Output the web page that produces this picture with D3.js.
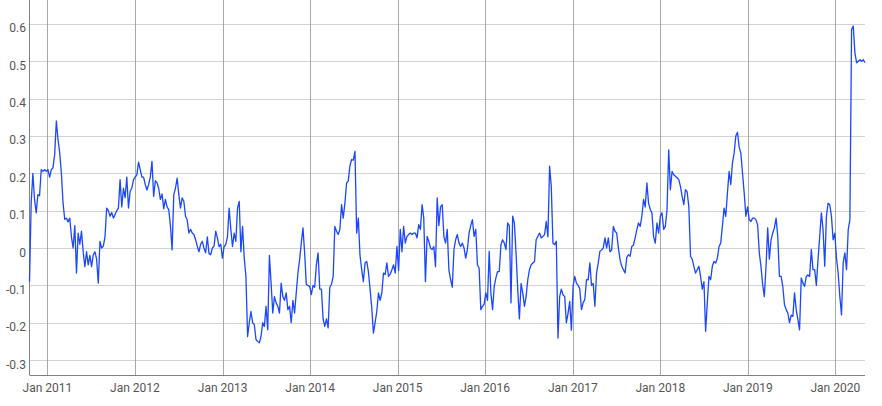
<!DOCTYPE html>
<html>
<head>
<meta charset="utf-8">
<script src="https://cdnjs.cloudflare.com/ajax/libs/d3/7.8.5/d3.min.js"></script>
<style>
  body { margin: 0; background: #fff; }
  svg text { font-family: Roboto, "Noto Sans", sans-serif; font-size: 12px; fill: #555; }
</style>
</head>
<body>
<svg width="882" height="406"></svg>
<script>
// weekly series, first point on this date
var startDate = new Date(2010, 9, 18);
var stepDays = 7;

// tick values
var yTicks = [-0.3, -0.2, -0.1, 0, 0.1, 0.2, 0.3, 0.4, 0.5, 0.6];
var xTickYears = [2011, 2012, 2013, 2014, 2015, 2016, 2017, 2018, 2019, 2020];

// values, one per week
var valuesA = [-0.09, 0.12, 0.20, 0.13, 0.094, 0.143, 0.14, 0.21, 0.205, 0.21, 0.205, 0.21, 0.19, 0.21, 0.215, 0.25, 0.34, 0.29, 0.255, 0.20,
  0.12, 0.077, 0.08, 0.07, 0.08, 0.03, 0.0, 0.06, -0.067, 0.04, 0.01, 0.045, -0.01, -0.05, -0.01, -0.045, -0.02, -0.05, -0.018, -0.01,
  -0.03, -0.094, 0.018, 0.0, 0.005, 0.03, 0.107, 0.10, 0.085, 0.095, 0.08, 0.09, 0.10, 0.107, 0.183, 0.11, 0.16, 0.135, 0.19, 0.107,
  0.152, 0.16, 0.183, 0.19, 0.196, 0.23, 0.21, 0.19, 0.19, 0.17, 0.155, 0.17, 0.19, 0.232, 0.138, 0.18, 0.175, 0.16, 0.13, 0.145,
  0.105, 0.13, 0.11, 0.103];

var valuesB = [0.06, -0.005, 0.143, 0.16, 0.187, 0.143, 0.107, 0.134, 0.125, 0.085, 0.075, 0.04, 0.05, 0.04, 0.036, 0.022, 0.005, -0.01, 0.01, 0.018,
  0.0, -0.013, 0.03, -0.015, -0.018, 0.0, 0.005, 0.045, 0.027, 0.004, 0.01, -0.027, 0.004, 0.01, 0.03, 0.107, 0.05, 0.004, 0.04, 0.018,
  0.107, 0.125, -0.01, 0.058, -0.027, -0.076, -0.237, -0.2, -0.17, -0.2, -0.205, -0.245, -0.25, -0.254, -0.237, -0.2, -0.21, -0.156, -0.219, -0.02,
  -0.094, -0.174, -0.13, -0.147, -0.156, -0.174, -0.094, -0.13, -0.14, -0.12, -0.165, -0.156, -0.2, -0.14, -0.174, -0.12, -0.067, -0.031, 0.013, 0.054,
  -0.013, -0.098, -0.1];

var valuesC = [-0.103, -0.125, -0.1, -0.105, -0.045, -0.013, -0.11, -0.11, -0.19, -0.21, -0.19, -0.214, -0.105, -0.097, -0.076, 0.058, 0.045, 0.036, 0.05, 0.116,
  0.08, 0.12, 0.174, 0.179, 0.22, 0.237, 0.235, 0.259, 0.04, 0.08, -0.02, -0.058, -0.09, -0.04, -0.036, -0.063, -0.11, -0.16, -0.228, -0.2,
  -0.17, -0.12, -0.14, -0.12, -0.067, -0.071, -0.04, -0.076, -0.07, -0.058, -0.045, -0.067, 0.004, -0.06, 0.05, -0.01, 0.058, 0.013, 0.031, 0.036,
  0.04, 0.036, 0.04, 0.04, 0.027, 0.0625, 0.05, 0.116, 0.08, -0.09, 0.031, 0.018, 0.0, -0.004, 0.004, -0.05, 0.134, 0.06, 0.11, 0.116,
  0.03, 0.013, 0.05, -0.06, -0.085];

var valuesD = [-0.105, -0.004, 0.022, 0.036, 0.013, 0.004, 0.013, 0.0, -0.027, -0.004, 0.04, 0.06, 0.076, 0.031, 0.05, -0.045, -0.054, -0.165, -0.156, -0.15,
  -0.12, -0.14, -0.009, -0.12, -0.165, -0.103, -0.08, -0.063, -0.063, 0.009, 0.022, 0.013, -0.004, 0.067, 0.06, -0.147, 0.085, 0.067, -0.013, -0.11,
  -0.19, -0.095, -0.12, -0.156, -0.13, -0.085, -0.058, -0.045, -0.04, -0.036, 0.022, 0.031, 0.04, 0.027, 0.031, 0.036, 0.071, 0.03, 0.219, 0.165,
  0.013, 0.009, 0.018, -0.241, -0.13, -0.11, -0.125, -0.13, -0.2, -0.175, -0.143, -0.22, -0.103, -0.076, -0.094, -0.1, -0.11, -0.165, -0.147, -0.138,
  -0.085, -0.085, -0.04];

var valuesE = [-0.1, -0.095, -0.156, -0.067, -0.04, -0.009, -0.005, 0.0, 0.027, 0.0, 0.027, -0.01, -0.005, 0.058, 0.045, 0.04, 0.0, -0.031, -0.049, -0.058,
  -0.067, -0.025, -0.018, -0.022, 0.004, 0.008, 0.027, 0.049, 0.067, 0.058, 0.085, 0.13, 0.11, 0.174, 0.12, 0.103, 0.094, 0.03, 0.013, 0.067,
  0.04, 0.085, 0.094, 0.05, 0.058, 0.103, 0.263, 0.156, 0.205, 0.196, 0.192, 0.188, 0.183, 0.165, 0.138, 0.116, 0.156, 0.15, 0.11, -0.022,
  -0.03, -0.049, -0.067, -0.058, -0.049, -0.076, -0.11, -0.09, -0.223, -0.147, -0.076, -0.085, -0.049, -0.036, -0.04, -0.027, 0.004, 0.013, 0.058, 0.107,
  0.085, 0.147, 0.205, 0.17];

var valuesF = [0.228, 0.254, 0.3, 0.31, 0.27, 0.254, 0.2, 0.147, 0.085, 0.11, 0.076, 0.071, 0.08, 0.08, 0.076, 0.062, -0.013, -0.05, -0.098, -0.13,
  -0.05, 0.054, -0.03, 0.022, 0.04, 0.054, 0.08, 0.031, -0.076, -0.076, -0.103, -0.152, -0.165, -0.174, -0.2, -0.18, -0.183, -0.12, -0.165, -0.192,
  -0.219, -0.08, -0.094, -0.103, -0.076, -0.072, -0.076, -0.004, -0.058, -0.058, -0.1, -0.031, 0.031, 0.094, 0.049, -0.049, 0.085, 0.12, 0.116, 0.085,
  0.022, 0.04, -0.027, -0.067, -0.13, -0.179, -0.04, -0.013, -0.058, 0.049, 0.076, 0.585, 0.594, 0.522, 0.496, 0.5, 0.504, 0.5, 0.504, 0.496];

var values = valuesA.concat(valuesB, valuesC, valuesD, valuesE, valuesF);

var data = values.map(function(v, i) {
  return { date: d3.timeDay.offset(startDate, i * stepDays), value: v };
});

var canvas = d3.select("svg");
var width = 882, height = 406;
var margin = { top: 0, right: 17, bottom: 31, left: 29.5 };

var x = d3.scaleTime()
  .domain(d3.extent(data, function(d) { return d.date; }))
  .range([margin.left, width - margin.right]);

var y = d3.scaleLinear()
  .domain([-0.34, 0.664])
  .range([height - margin.bottom, margin.top]);

var xTicks = xTickYears.map(function(yr) { return new Date(yr, 0, 1); });

// horizontal grid
canvas.append("g")
  .selectAll("line")
  .data(yTicks)
  .enter()
    .append("line")
    .attr("x1", margin.left)
    .attr("x2", width - margin.right)
    .attr("y1", function(d) { return Math.round(y(d)) + 0.5; })
    .attr("y2", function(d) { return Math.round(y(d)) + 0.5; })
    .style("stroke", "#d2d2d2")
    .style("stroke-width", 1);

// vertical grid
canvas.append("g")
  .selectAll("line")
  .data(xTicks)
  .enter()
    .append("line")
    .attr("x1", function(d) { return Math.round(x(d)) + 0.5; })
    .attr("x2", function(d) { return Math.round(x(d)) + 0.5; })
    .attr("y1", margin.top)
    .attr("y2", height - margin.bottom)
    .style("stroke", "#a8a8a8")
    .style("stroke-width", 1);

// axis lines
canvas.append("line")
  .attr("x1", margin.left).attr("x2", margin.left)
  .attr("y1", margin.top).attr("y2", height - margin.bottom)
  .style("stroke", "#808080");

canvas.append("line")
  .attr("x1", margin.left).attr("x2", width - margin.right)
  .attr("y1", height - margin.bottom + 0.5).attr("y2", height - margin.bottom + 0.5)
  .style("stroke", "#808080");

// y labels
canvas.append("g")
  .selectAll("text")
  .data(yTicks)
  .enter()
    .append("text")
    .attr("x", 26)
    .attr("y", function(d) { return y(d) + 8.5; })
    .attr("text-anchor", "end")
    .text(function(d) { return d === 0 ? "0" : d.toFixed(1); });

// x labels
canvas.append("g")
  .selectAll("text")
  .data(xTicks)
  .enter()
    .append("text")
    .attr("x", function(d) { return x(d); })
    .attr("y", 392)
    .attr("text-anchor", "middle")
    .text(function(d) { return "Jan " + d.getFullYear(); });

// the series
var line = d3.line()
  .x(function(d) { return x(d.date); })
  .y(function(d) { return y(d.value); });

canvas.append("path")
  .datum(data)
  .attr("d", line)
  .style("fill", "none")
  .style("stroke", "#1a46ff")
  .style("stroke-width", 1.3)
  .style("stroke-linejoin", "round");
</script>
</body>
</html>
